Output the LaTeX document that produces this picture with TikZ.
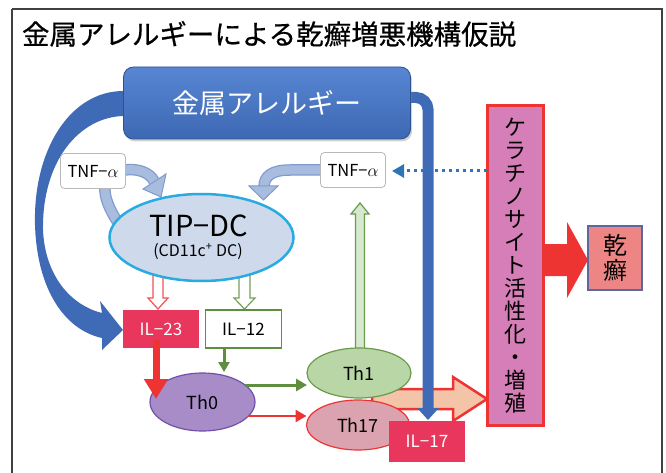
\documentclass[tikz,border=0pt]{standalone}
\usepackage{fontspec}
\setmainfont{Noto Sans CJK JP}
\newfontfamily\heavyjp[FakeBold=0.6]{Noto Sans CJK JP}
\usetikzlibrary{arrows.meta,calc,shapes.geometric,shadows}
\definecolor{boxtop}{HTML}{5886D2}
\definecolor{boxbot}{HTML}{3D68B3}
\definecolor{bluedark}{HTML}{2E5290}
\definecolor{bluearr}{HTML}{3F6BB6}
\definecolor{lbfill}{HTML}{A7BCDF}
\definecolor{lbedge}{HTML}{7F9ACB}
\definecolor{tipfill}{HTML}{CED9EC}
\definecolor{tipedge}{HTML}{29ABE2}
\definecolor{ilred}{HTML}{E8365D}
\definecolor{grn}{HTML}{5E8F3E}
\definecolor{grnlight}{HTML}{D6E9CE}
\definecolor{th0fill}{HTML}{A78CC8}
\definecolor{th0edge}{HTML}{7050A8}
\definecolor{th1fill}{HTML}{B8D6A6}
\definecolor{th1edge}{HTML}{6A9A4C}
\definecolor{th17fill}{HTML}{DBA3AF}
\definecolor{redline}{HTML}{EE3333}
\definecolor{peach}{HTML}{F4C4A8}
\definecolor{keratfill}{HTML}{D67EB8}
\definecolor{psofill}{HTML}{EE8585}
\definecolor{psoedge}{HTML}{5A67A0}
\definecolor{dotblue}{HTML}{2E75B6}
\pgfdeclarelayer{layzero}
\pgfdeclarelayer{layone}
\pgfsetlayers{layzero,layone,main}
\newcommand\vhollow[6]{(#1-#5,#2) -- (#1-#5,#3) -- (#1-#6,#3) -- (#1,#4) -- (#1+#6,#3) -- (#1+#5,#3) -- (#1+#5,#2) -- cycle}
\begin{document}
\begin{tikzpicture}[x=1pt,y=-1pt,
  every node/.style={inner sep=0pt, outer sep=0pt},
  allergybox/.style={rounded corners=10pt, minimum width=287, minimum height=72,
    top color=boxtop, bottom color=boxbot, draw=bluedark, line width=0.8,
    text=white, font=\fontsize{27}{29}\selectfont,
    drop shadow={opacity=0.35, shadow xshift=1.5pt, shadow yshift=-2.5pt}},
  tnfbox/.style={draw=black!28, line width=0.8, fill=white, rounded corners=4pt,
    minimum width=65, minimum height=35, font=\fontsize{16.5}{18}\selectfont},
  ilbox/.style={minimum width=76, minimum height=38, font=\fontsize{17}{19}\selectfont},
  thcell/.style={ellipse, line width=1.2, font=\fontsize{18}{20}\selectfont},
  bandedge/.style={lbedge, line width=11.5},
  bandfill/.style={lbfill, line width=9},
  headstyle/.style={fill=lbfill, draw=lbedge, line width=1, line join=miter},
]
\useasboundingbox (0,0) rectangle (666,473);
\begin{pgfonlayer}{layzero}
  \fill[white] (0,0) rectangle (666,473);
\end{pgfonlayer}
\draw[line width=1.3, black!75] (12,9) -- (12,473) (12,9) -- (662,9) -- (662,473);
\node[anchor=west, font=\heavyjp\fontsize{27.5}{30}\selectfont] (title) at (22,34) {金属アレルギーによる乾癬増悪機構仮説};

% nodes
\node[allergybox] (allergy) at (267,103) {金属アレルギー};
\node[tnfbox] (tnfL) at (93,171) {TNF−$\alpha$};
\node[tnfbox] (tnfR) at (353,170) {TNF−$\alpha$};
\node[ellipse, minimum width=184, minimum height=87, draw=tipedge, line width=2.5, fill=tipfill] (tip) at (201.5,237.5) {};
\node[font=\fontsize{29}{30}\selectfont] (tipname) at (199,226) {TIP−DC};
\node[font=\fontsize{16}{18}\selectfont] (tipsub) at (198,251.5) {(CD11c\textsuperscript{+} DC)};
\node[ilbox, fill=ilred, text=white] (il23) at (161,329) {IL−23};
\node[ilbox, fill=white, draw=grn, line width=1.2] (il12) at (243.5,329) {IL−12};
\node[thcell, minimum width=105, minimum height=58, fill=th0fill, draw=th0edge] (th0) at (202.5,402) {Th0};
\node[thcell, minimum width=104, minimum height=50, fill=th1fill, draw=th1edge] (th1) at (359,373) {Th1};
\node[thcell, minimum width=103, minimum height=50, fill=th17fill, draw=redline] (th17) at (358,425) {Th17};
\node[ilbox, minimum height=41, fill=ilred, text=white] (il17) at (427,441) {IL−17};
\node[minimum width=56, minimum height=319, fill=keratfill, draw=redline, line width=3] (kerat) at (515,265.5) {};
\node[align=center, font=\fontsize{22}{23}\selectfont] (kerattext) at (515,266) {ケ\\ラ\\チ\\ノ\\サ\\イ\\ト\\活\\性\\化\\・\\増\\殖};
\node[minimum width=54, minimum height=64, fill=psofill, draw=psoedge, line width=1.5, align=center, font=\fontsize{24}{25}\selectfont] (pso) at (615,258) {乾\\癬};

% background connectors
\begin{pgfonlayer}{layzero}
  % big curved arrow from allergy to IL-23
  \fill[bluearr] (allergy.west |- 0,91) .. controls (70,91) and (33,150) .. (35,225)
     .. controls (37,290) and (65,330) .. (102,338) -- (102,350) -- (il23.west |- 0,330)
     -- (100,301) -- (102,313) .. controls (70,305) and (45,275) .. (43,230)
     .. controls (42,160) and (80,117) .. (allergy.west |- 0,116) -- cycle;
  % left TNF band
  \draw[bandedge] (119,224) .. controls (108,208) and (102,192) .. (106,180) .. controls (112,168) and (145,164) .. (154,181);
  \draw[bandfill] (119,224) .. controls (108,208) and (102,192) .. (106,180) .. controls (112,168) and (145,164) .. (154,181);
  \filldraw[headstyle] (166,174) -- (161,197) -- (143,189) -- cycle;
  % right TNF band
  \draw[bandedge] (tnfR.center) -- (290,170) .. controls (272,170) and (264,176) .. (264,187);
  \draw[bandfill] (tnfR.center) -- (290,170) .. controls (272,170) and (264,176) .. (264,187);
  \filldraw[headstyle] (249,186) -- (278,186) -- (263.5,200) -- cycle;
  % hollow arrows
  \filldraw[fill=white, draw=redline!85, line width=1.2] \vhollow{158}{270}{298}{309}{5}{10};
  \filldraw[fill=white, draw=grn!85, line width=1.2] \vhollow{244.5}{270}{298}{309}{5.5}{10.5};
  \filldraw[fill=grnlight, draw=th1edge, line width=1.2] \vhollow{360}{360}{214}{203}{4.5}{9};
  % peach arrow
  \filldraw[fill=peach, draw=redline, line width=2.5, line join=miter] (372,389) -- (453,389) -- (453,377) -- (kerat.west |- 0,399) -- (453,421) -- (453,409) -- (372,409) -- cycle;
\end{pgfonlayer}
\begin{pgfonlayer}{layone}
  \draw[bluearr, line width=11, rounded corners=12, -{Triangle[length=12pt,width=21pt]}] (allergy.center |- 0,97.5) -- (428,97.5) -- (428,420);
\end{pgfonlayer}

% foreground connectors
\draw[redline, line width=7, -{Triangle[length=20pt,width=23pt]}] (156,340) -- (156,399);
\draw[grn, line width=3, -{Triangle[length=10pt,width=11pt]}] (il12.south -| 224,0) -- (224,372);
\draw[grn, line width=3, -{Triangle[length=11pt,width=12pt]}] (245,385) -- (th1.west |- 0,385);
\draw[redline, line width=2.5, -{Triangle[length=11pt,width=12pt]}] (248,416) -- (th17.west |- 0,416);
\draw[dotblue, line width=3, dash pattern=on 3pt off 4pt, -{Triangle[length=12pt,width=13pt]}] (kerat.west |- 0,171) -- (392,171);
\fill[redline] (kerat.east |- 0,244) -- (567,244) -- (567,222) -- (pso.west |- 0,260) -- (567,298) -- (567,276) -- (kerat.east |- 0,276) -- cycle;
\end{tikzpicture}
\end{document}
